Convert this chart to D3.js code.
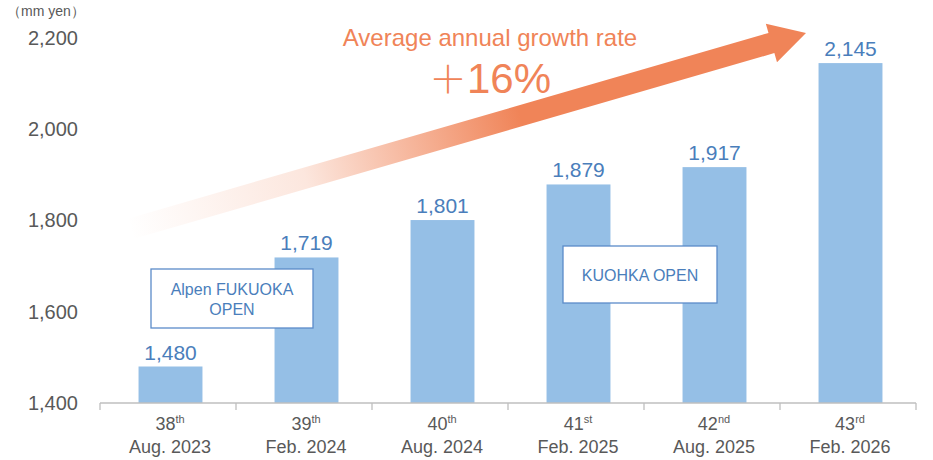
<!DOCTYPE html>
<html>
<head>
<meta charset="utf-8">
<script src="https://cdn.jsdelivr.net/npm/d3@7"></script>
<style>
  body { margin: 0; background: #fff; }
  svg text { font-family: Arial, "Liberation Sans", sans-serif; }
</style>
</head>
<body>
<div id="chart"></div>
<script>
// data
var rounds = ["38", "39", "40", "41", "42", "43"],
    suffixes = ["th", "th", "th", "st", "nd", "rd"],
    periods = ["Aug. 2023", "Feb. 2024", "Aug. 2024", "Feb. 2025", "Aug. 2025", "Feb. 2026"],
    values = [1480, 1719, 1801, 1879, 1917, 2145],
    yTicks = [1400, 1600, 1800, 2000, 2200];

var unitLabel = "（mm yen）",
    growthTitle = "Average annual growth rate",
    growthSign = "＋",
    growthValue = "16%",
    boxNotes = [
        { lines: ["Alpen FUKUOKA", "OPEN"] },
        { lines: ["KUOHKA OPEN"] }
    ];

// layout
var width = 933,
    height = 460,
    barColor = "#95BFE6",
    labelBlue = "#4A7EBB",
    textGrey = "#595959",
    orange = "#F08458";

var x = d3.scaleBand()
    .domain(rounds)
    .range([101, 917])
    .paddingInner(0.53)
    .paddingOuter(0.265);

var y = d3.scaleLinear()
    .domain([1400, 2200])
    .range([403, 38]);

var svg = d3.select("#chart")
    .append("svg")
    .attr("width", width)
    .attr("height", height);

// unit label
svg.append("text")
    .attr("x", 7)
    .attr("y", 16)
    .attr("fill", textGrey)
    .style("font-size", "14px")
    .text(unitLabel);

// y axis (labels only)
var yAxis = d3.axisLeft(y)
    .tickValues(yTicks)
    .tickSize(0)
    .tickPadding(0)
    .tickFormat(d3.format(","));

var gY = svg.append("g")
    .attr("transform", "translate(78,0)")
    .call(yAxis);
gY.select(".domain").remove();
gY.selectAll("text")
    .attr("fill", textGrey)
    .style("font-size", "20px")
    .style("font-family", "Arial, 'Liberation Sans', sans-serif");

// growth arrow (annotation)
var S = [130, 229], T = [806, 33],
    dx = T[0] - S[0], dy = T[1] - S[1],
    L = Math.sqrt(dx * dx + dy * dy),
    u = [dx / L, dy / L],
    n = [-u[1], u[0]],
    shaftHalf = 10.5, headLen = 36, headHalf = 20;

function pt(along, side) {
    return [S[0] + u[0] * along + n[0] * side, S[1] + u[1] * along + n[1] * side];
}

var arrowPts = [
    pt(0, -shaftHalf), pt(L - headLen, -shaftHalf), pt(L - headLen, -headHalf),
    pt(L, 0),
    pt(L - headLen, headHalf), pt(L - headLen, shaftHalf), pt(0, shaftHalf)
];

var defs = svg.append("defs");
var grad = defs.append("linearGradient")
    .attr("id", "arrowGrad")
    .attr("gradientUnits", "userSpaceOnUse")
    .attr("x1", S[0]).attr("y1", S[1])
    .attr("x2", 520).attr("y2", S[1] + (520 - S[0]) * dy / dx);
grad.append("stop").attr("offset", "0").attr("stop-color", orange).attr("stop-opacity", 0);
grad.append("stop").attr("offset", "0.45").attr("stop-color", orange).attr("stop-opacity", 0.2);
grad.append("stop").attr("offset", "1").attr("stop-color", orange).attr("stop-opacity", 1);

svg.append("path")
    .attr("d", d3.line()(arrowPts) + "Z")
    .attr("fill", "url(#arrowGrad)");

svg.append("text")
    .attr("x", 490)
    .attr("y", 46)
    .attr("text-anchor", "middle")
    .attr("fill", orange)
    .style("font-size", "24px")
    .text(growthTitle);

var gv = svg.append("text")
    .attr("x", 490)
    .attr("y", 93)
    .attr("text-anchor", "middle")
    .attr("fill", orange)
    .style("font-size", "42px");
gv.append("tspan")
    .style("font-family", "'Noto Sans CJK JP', sans-serif")
    .style("font-weight", "300")
    .style("font-size", "38px")
    .text(growthSign);
gv.append("tspan").text(growthValue);

// bars
svg.selectAll(".bar")
    .data(values)
    .enter()
    .append("rect")
    .attr("class", "bar")
    .attr("x", function(d, i) { return x(rounds[i]) + 1.5; })
    .attr("y", function(d) { return y(d); })
    .attr("width", x.bandwidth())
    .attr("height", function(d) { return y(1400) - y(d); })
    .attr("fill", barColor);

svg.selectAll(".val")
    .data(values)
    .enter()
    .append("text")
    .attr("class", "val")
    .attr("x", function(d, i) { return x(rounds[i]) + 1.5 + x.bandwidth() / 2; })
    .attr("y", function(d) { return y(d) - 7; })
    .attr("text-anchor", "middle")
    .attr("fill", labelBlue)
    .style("font-size", "21px")
    .text(d3.format(","));

// x axis line + boundary ticks
var step = x.step(),
    left = x.range()[0] - 1;
var bounds = d3.range(rounds.length + 1).map(function(i) { return left + i * step; });

svg.append("line")
    .attr("x1", bounds[0]).attr("x2", bounds[bounds.length - 1])
    .attr("y1", y(1400)).attr("y2", y(1400))
    .attr("stroke", "#BFBFBF")
    .attr("stroke-width", 1.3);

svg.selectAll(".btick")
    .data(bounds)
    .enter()
    .append("line")
    .attr("class", "btick")
    .attr("x1", function(d) { return d; }).attr("x2", function(d) { return d; })
    .attr("y1", y(1400)).attr("y2", y(1400) + 7)
    .attr("stroke", "#BFBFBF")
    .attr("stroke-width", 1.3);

var xl = svg.selectAll(".xlab")
    .data(rounds)
    .enter()
    .append("g")
    .attr("class", "xlab")
    .attr("transform", function(d) { return "translate(" + (x(d) + x.bandwidth() / 2 + 1) + ",0)"; });

var t1 = xl.append("text")
    .attr("y", 430)
    .attr("text-anchor", "middle")
    .attr("fill", textGrey)
    .style("font-size", "18px");
t1.append("tspan").text(function(d) { return d; });
t1.append("tspan")
    .attr("dy", -7)
    .style("font-size", "11px")
    .text(function(d, i) { return suffixes[i]; });

xl.append("text")
    .attr("y", 453)
    .attr("text-anchor", "middle")
    .attr("fill", textGrey)
    .style("font-size", "18px")
    .text(function(d, i) { return periods[i]; });

// note boxes
var boxPos = [
    { x: 151, y: 269, w: 162, h: 59 },
    { x: 563, y: 246, w: 154, h: 57 }
];

boxNotes.forEach(function(b, i) {
    var p = boxPos[i];
    var g = svg.append("g");
    g.append("rect")
        .attr("x", p.x).attr("y", p.y)
        .attr("width", p.w).attr("height", p.h)
        .attr("fill", "#fff")
        .attr("stroke", "#5B8BC9")
        .attr("stroke-width", 1.3);
    var lh = 20,
        first = p.y + p.h / 2 - (b.lines.length - 1) * lh / 2 + 6;
    b.lines.forEach(function(line, j) {
        g.append("text")
            .attr("x", p.x + p.w / 2)
            .attr("y", first + j * lh)
            .attr("text-anchor", "middle")
            .attr("fill", labelBlue)
            .style("font-size", "16px")
            .text(line);
    });
});
</script>
</body>
</html>
